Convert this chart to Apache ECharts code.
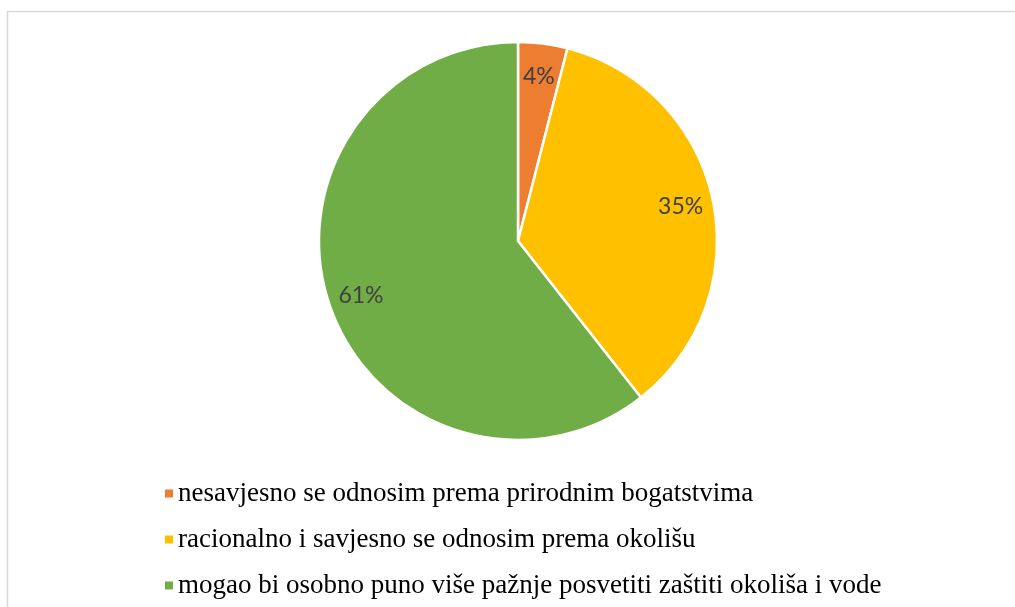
<!DOCTYPE html>
<html>
<head>
<meta charset="utf-8">
<script src="https://cdn.jsdelivr.net/npm/echarts@6/dist/echarts.min.js"></script>
<style>html,body{margin:0;padding:0;background:#fff;}#c{width:1015px;height:607px;}</style>
</head>
<body>
<div id="c"></div>
<script>
const categories = [
  'nesavjesno se odnosim prema prirodnim bogatstvima',
  'racionalno i savjesno se odnosim prema okolišu',
  'mogao bi osobno puno više pažnje posvetiti zaštiti okoliša i vode'
];
const values = [4.0, 35.4, 60.6];
const colors = ['#ED7D31', '#FFC000', '#70AD47'];

const data = categories.map((name, i) => ({ name, value: values[i], itemStyle: { color: colors[i] } }));
const center = [518, 241];
const R = 199;

const chart = echarts.init(document.getElementById('c'));
chart.setOption({
  animation: false,
  graphic: [{
    type: 'rect', silent: true,
    shape: { x: 7.5, y: 11.5, width: 1040, height: 640 },
    style: { fill: 'none', stroke: '#d9d9d9', lineWidth: 1.5 }
  }],
  legend: {
    orient: 'vertical',
    left: 158,
    top: 475,
    itemWidth: 10,
    itemHeight: 10,
    itemGap: 19,
    icon: 'rect',
    textStyle: { fontFamily: 'Liberation Serif', fontSize: 27, color: '#000', lineHeight: 27, padding: [0, 0, 0, -1] },
    data: categories
  },
  series: [{
    type: 'pie',
    center: center,
    radius: [0, R],
    startAngle: 90,
    clockwise: true,
    label: { show: false },
    labelLine: { show: false },
    itemStyle: { borderColor: '#fff', borderWidth: 2.5 },
    data: data
  }, {
    type: 'pie',
    center: center,
    radius: [R * 0.64, R],
    startAngle: 90,
    clockwise: true,
    silent: true,
    legendHoverLink: false,
    itemStyle: { color: 'rgba(0,0,0,0)', borderWidth: 0 },
    label: {
      show: true,
      position: 'inside',
      fontFamily: 'Lato',
      fontSize: 23,
      color: '#404040',
      formatter: p => Math.round(p.percent) + '%'
    },
    labelLine: { show: false },
    data: categories.map((name, i) => ({ name, value: values[i] }))
  }]
});
</script>
</body>
</html>
